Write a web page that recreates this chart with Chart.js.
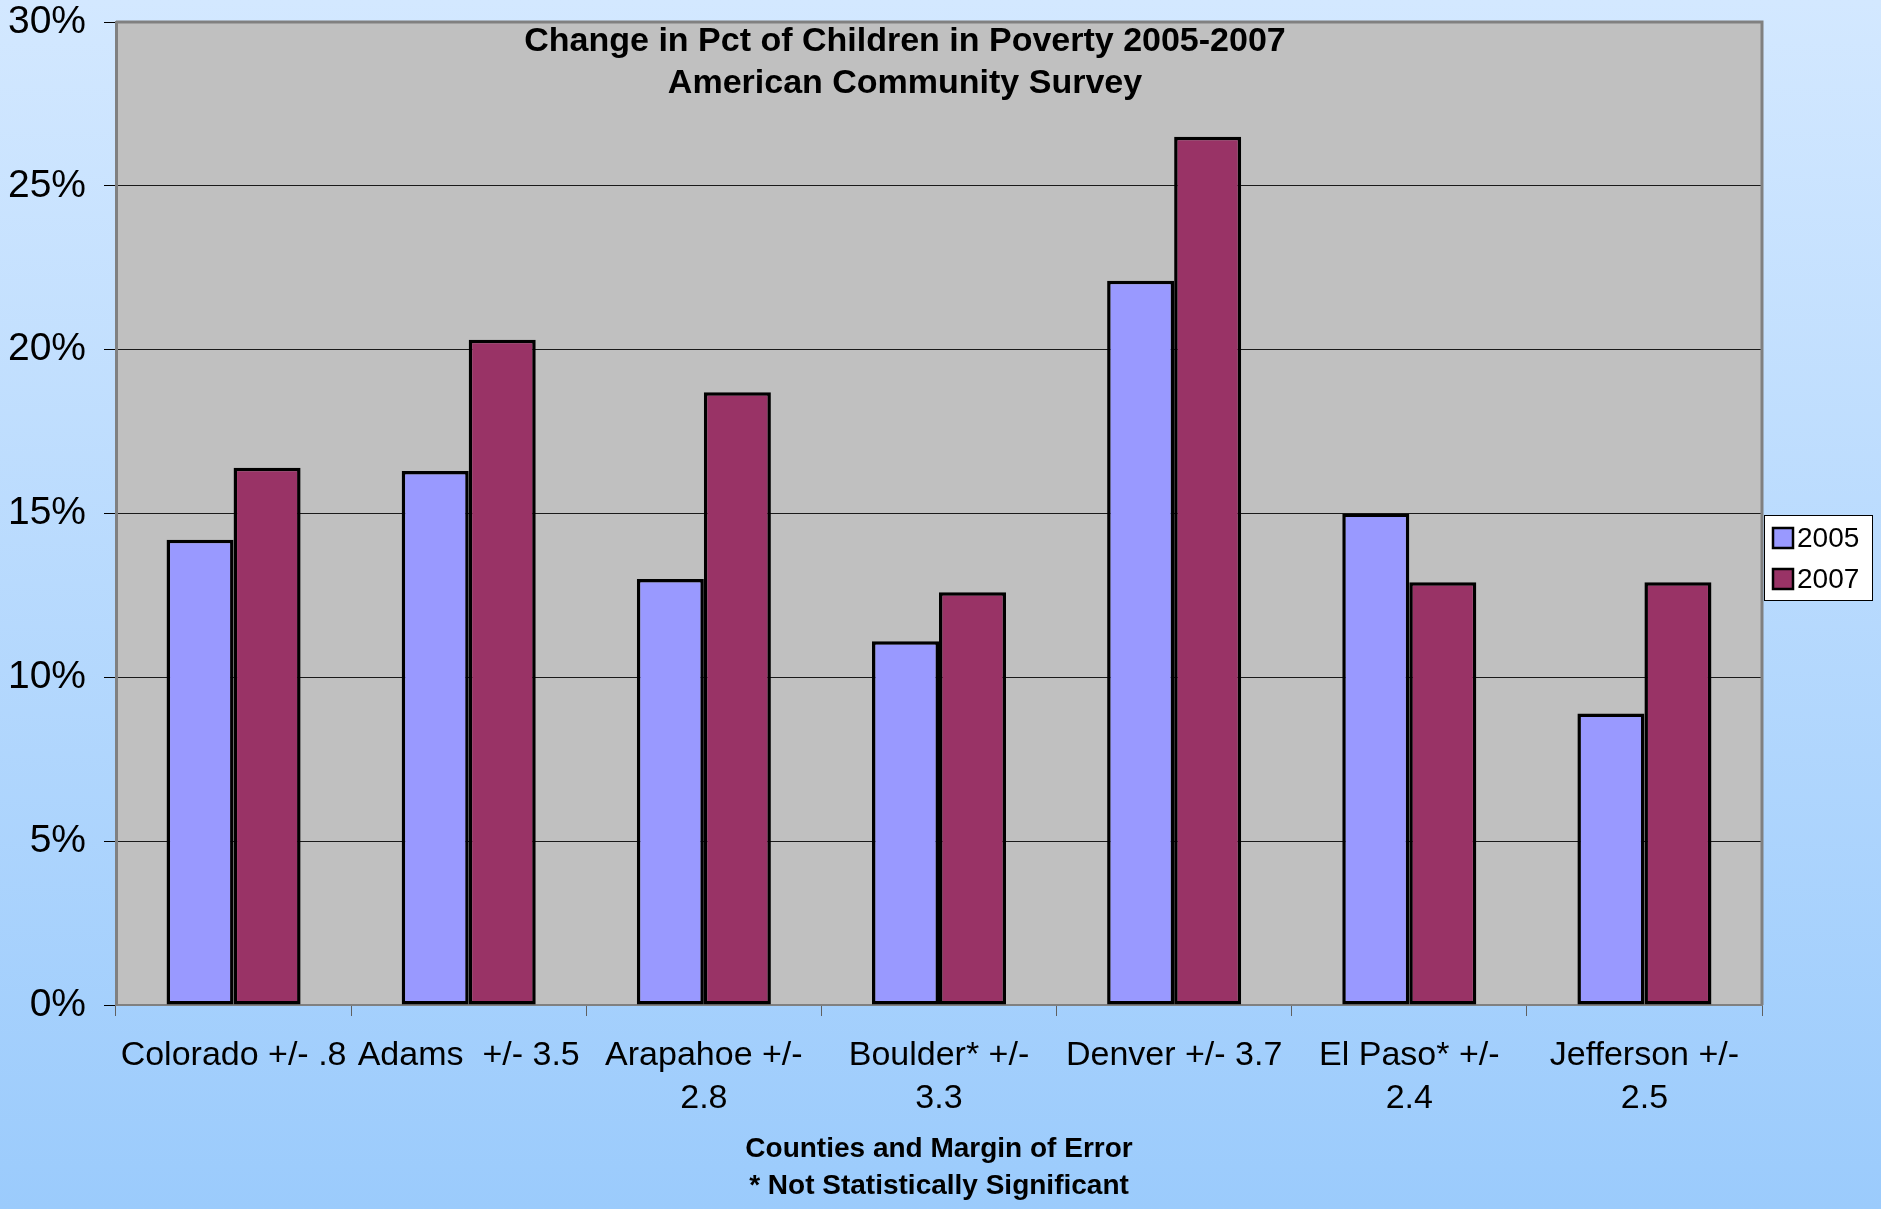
<!DOCTYPE html>
<html>
<head>
<meta charset="utf-8">
<script src="https://cdn.jsdelivr.net/npm/chart.js@4.4.0/dist/chart.umd.min.js"></script>
<style>
html,body{margin:0;padding:0;background:#b5daff;}
canvas{display:block;}
</style>
</head>
<body>
<canvas id="c" width="1881" height="1209"></canvas>
<script>
const categories = [
  "Colorado +/- .8",
  "Adams  +/- 3.5",
  ["Arapahoe +/-", "2.8"],
  ["Boulder* +/-", "3.3"],
  "Denver +/- 3.7",
  ["El Paso* +/-", "2.4"],
  ["Jefferson +/-", "2.5"]
];
const seriesNames = ["2005", "2007"];
const values2005 = [14.2, 16.3, 13.0, 11.1, 22.1, 15.0, 8.9];
const values2007 = [16.4, 20.3, 18.7, 12.6, 26.5, 12.9, 12.9];
const yTicks = [0, 5, 10, 15, 20, 25, 30];
const titleLines = ["Change in Pct of Children in Poverty 2005-2007", "American Community Survey"];
const xTitleLines = ["Counties and Margin of Error", "* Not Statistically Significant"];

const FONT = "'Liberation Sans', Arial, sans-serif";

const bgPlugin = {
  id: 'bg',
  beforeDraw(chart) {
    const {ctx, chartArea: a} = chart;
    ctx.save();
    const g = ctx.createLinearGradient(0, 0, 0, chart.height);
    g.addColorStop(0, '#d3e8ff');
    g.addColorStop(1, '#9bcbfc');
    ctx.fillStyle = g;
    ctx.fillRect(0, 0, chart.width, chart.height);
    ctx.fillStyle = '#c0c0c0';
    ctx.fillRect(a.left, a.top, a.right - a.left, a.bottom - a.top);
    ctx.restore();
  },
  afterDatasetsDraw(chart) {
    const {ctx, chartArea: a} = chart;
    ctx.save();
    ctx.strokeStyle = '#808080';
    ctx.lineWidth = 3;
    ctx.beginPath();
    ctx.moveTo(a.left, a.top);
    ctx.lineTo(a.right, a.top);
    ctx.lineTo(a.right, a.bottom);
    ctx.stroke();
    // title
    ctx.fillStyle = '#000';
    ctx.font = "bold 34px " + FONT;
    ctx.textAlign = 'center';
    ctx.textBaseline = 'middle';
    ctx.fillText(titleLines[0], 905, 42);
    ctx.fillText(titleLines[1], 905, 84);
    // legend
    const lx = 1764, ly = 515, lw = 108, lh = 85;
    ctx.fillStyle = '#ffffff';
    ctx.fillRect(lx, ly, lw, lh);
    ctx.strokeStyle = '#000';
    ctx.lineWidth = 1;
    ctx.strokeRect(lx + 0.5, ly + 0.5, lw, lh);
    chart.data.datasets.forEach((ds, i) => {
      const cy = 538 + i * 41;
      ctx.fillStyle = ds.backgroundColor;
      ctx.fillRect(1773, cy - 10, 20, 20);
      ctx.strokeStyle = '#000';
      ctx.lineWidth = 2.5;
      ctx.strokeRect(1773, cy - 10, 20, 20);
      ctx.fillStyle = '#000';
      ctx.font = "28px " + FONT;
      ctx.textAlign = 'left';
      ctx.textBaseline = 'middle';
      ctx.fillText(ds.label, 1797, cy + 1);
    });
    ctx.restore();
  }
};

new Chart(document.getElementById('c'), {
  type: 'bar',
  data: {
    labels: categories,
    datasets: [
      {label: seriesNames[0], data: values2005, backgroundColor: '#9999ff', borderColor: '#000', borderWidth: 3.5, borderSkipped: false},
      {label: seriesNames[1], data: values2007, backgroundColor: '#993366', borderColor: '#000', borderWidth: 3.5, borderSkipped: false}
    ]
  },
  options: {
    responsive: false,
    animation: false,
    devicePixelRatio: 1,
    layout: {padding: {left: 0, top: 22, right: 119, bottom: 0}},
    datasets: {bar: {categoryPercentage: 0.57, barPercentage: 1.0}},
    plugins: {legend: {display: false}, tooltip: {enabled: false}, title: {display: false}},
    scales: {
      x: {
        grid: {display: true, drawOnChartArea: false, drawTicks: true, tickLength: 11, tickColor: '#606060', offset: true},
        border: {display: true, color: '#808080', width: 2},
        ticks: {color: '#000', font: {family: FONT, size: 34, lineHeight: 1.24}, padding: 19, maxRotation: 0, autoSkip: false},
        title: {display: true, text: xTitleLines, color: '#000', font: {family: FONT, size: 28, weight: 'bold', lineHeight: 1.32}, padding: {top: 0, bottom: 4}},
        afterFit(scale) { scale.height = 1209 - 1005; scale.paddingLeft = 0; scale.paddingRight = 0; }
      },
      y: {
        min: 0, max: 30,
        afterBuildTicks(scale) { scale.ticks = yTicks.map(v => ({value: v})); },
        grid: {
          color: (c) => (c.tick && (c.tick.value === 0 || c.tick.value === 30)) ? 'rgba(0,0,0,0)' : '#1a1a1a',
          lineWidth: 1, drawTicks: true, tickLength: 12, tickColor: '#000'
        },
        border: {display: true, color: '#808080', width: 3},
        ticks: {color: '#000', font: {family: FONT, size: 39}, padding: 18, callback: (v) => v + '%'},
        afterFit(scale) { scale.width = 116; scale.paddingTop = 0; scale.paddingBottom = 0; }
      }
    }
  },
  plugins: [bgPlugin]
});
</script>
</body>
</html>
